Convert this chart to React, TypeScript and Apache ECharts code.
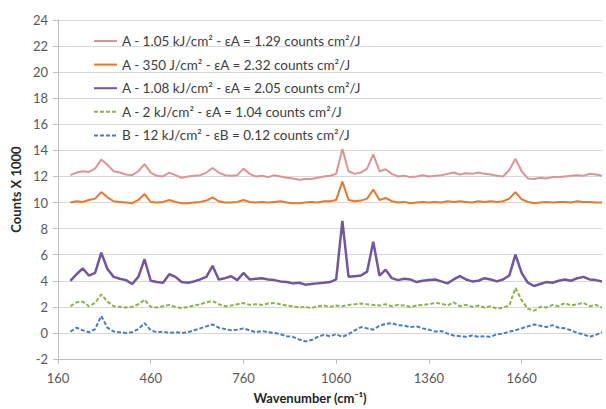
import React, { useEffect, useRef } from "react";
import * as echarts from "echarts";

const wavenumbers = [
  200, 220, 240, 260, 280, 300, 320, 340, 360, 380,
  400, 420, 440, 460, 480, 500, 520, 540, 560, 580,
  600, 620, 640, 660, 680, 700, 720, 740, 760, 780,
  800, 820, 840, 860, 880, 900, 920, 940, 960, 980,
  1000, 1020, 1040, 1060, 1080, 1100, 1120, 1140, 1160, 1180,
  1200, 1220, 1240, 1260, 1280, 1300, 1320, 1340, 1360, 1380,
  1400, 1420, 1440, 1460, 1480, 1500, 1520, 1540, 1560, 1580,
  1600, 1620, 1640, 1660, 1680, 1700, 1720, 1740, 1760, 1780,
  1800, 1820, 1840, 1860, 1880, 1900, 1920,
];

const seriesNames = [
  "A - 1.05 kJ/cm² - εA = 1.29 counts cm²/J",
  "A - 350 J/cm² - εA = 2.32 counts cm²/J",
  "A - 1.08 kJ/cm² - εA = 2.05 counts cm²/J",
  "A - 2 kJ/cm² - εA = 1.04 counts cm²/J",
  "B - 12 kJ/cm² - εB = 0.12 counts cm²/J",
];

const pinkValues = [
  12.1, 12.3, 12.4, 12.35, 12.6, 13.3, 12.9, 12.4, 12.3, 12.15,
  12.1, 12.4, 12.95, 12.3, 12.05, 12.0, 12.3, 12.1, 11.9, 12.0,
  12.05, 12.1, 12.3, 12.65, 12.3, 12.1, 12.05, 12.1, 12.6, 12.2,
  12.0, 12.05, 11.95, 12.1, 12.0, 11.9, 11.85, 11.75, 11.8, 11.8,
  11.9, 12.0, 12.05, 12.2, 14.1, 12.4, 12.2, 12.3, 12.6, 13.7,
  12.4, 12.55, 12.2, 12.0, 12.05, 11.95, 12.0, 12.1, 12.0, 12.05,
  12.1, 12.2, 12.3, 12.15, 12.25, 12.2, 12.3, 12.2, 12.15, 12.05,
  12.0, 12.5, 13.35, 12.4, 11.85, 11.8, 11.9, 11.85, 11.95, 11.95,
  12.0, 12.05, 12.1, 12.05, 12.2, 12.15, 12.05,
];

const orangeValues = [
  10.0, 10.1, 10.05, 10.2, 10.3, 10.8, 10.4, 10.1, 10.05, 10.0,
  9.95, 10.2, 10.65, 10.05, 10.0, 10.05, 10.2, 10.05, 9.95, 9.95,
  10.0, 10.05, 10.15, 10.4, 10.1, 10.0, 10.0, 10.05, 10.2, 10.05,
  10.0, 10.05, 10.0, 10.05, 10.1, 10.0, 9.95, 9.95, 10.0, 10.05,
  10.0, 10.1, 10.1, 10.2, 11.6, 10.2, 10.1, 10.15, 10.3, 11.0,
  10.2, 10.35, 10.1, 10.0, 10.05, 9.95, 10.0, 10.05, 10.0, 10.05,
  10.0, 10.1, 10.05, 10.1, 10.05, 10.0, 10.1, 10.05, 10.1, 10.05,
  10.1, 10.3, 10.8, 10.25, 10.05, 9.95, 10.0, 10.05, 10.0, 10.05,
  10.05, 10.0, 10.1, 10.05, 10.05, 10.0, 10.0,
];

const purpleValues = [
  4.0, 4.5, 4.95, 4.4, 4.6, 6.15, 4.9, 4.3, 4.15, 4.05,
  3.75, 4.3, 5.65, 4.0, 3.9, 3.85, 4.5, 4.3, 3.9, 3.85,
  3.95, 4.1, 4.3, 5.15, 4.1, 4.2, 4.35, 4.05, 4.6, 4.1,
  4.15, 4.2, 4.1, 4.05, 3.95, 3.9, 3.8, 3.85, 3.7, 3.75,
  3.8, 3.85, 3.9, 4.1, 8.6, 4.3, 4.35, 4.4, 4.7, 7.0,
  4.4, 4.85, 4.2, 4.05, 4.15, 4.1, 3.9, 4.0, 4.05, 4.1,
  3.95, 3.8, 4.1, 4.35, 4.1, 3.95, 4.0, 4.2, 4.1, 3.95,
  4.1, 4.4, 6.0, 4.6, 3.85, 3.6, 3.75, 3.9, 3.85, 4.0,
  4.1, 4.0, 4.2, 4.3, 4.1, 4.05, 3.95,
];

const greenValues = [
  2.05, 2.35, 2.4, 2.05, 2.3, 2.95, 2.4, 2.05, 2.0, 1.95,
  2.0, 2.2, 2.55, 2.0, 1.95, 2.05, 2.15, 2.0, 1.9, 2.0,
  2.1, 2.2, 2.35, 2.45, 2.2, 2.05, 2.1, 2.2, 2.3, 2.15,
  2.2, 2.15, 2.25, 2.3, 2.2, 2.1, 2.05, 1.95, 2.0, 1.9,
  2.05, 2.1, 2.0, 2.1, 2.05, 2.15, 2.2, 2.25, 2.2, 2.15,
  2.1, 2.2, 2.05, 2.15, 2.1, 2.0, 2.1, 2.15, 2.2, 2.3,
  2.25, 2.1, 2.35, 2.05, 2.15, 2.0, 2.1, 1.95, 2.05, 1.85,
  1.95, 2.1, 3.45, 2.5, 1.85, 1.7, 2.0, 1.95, 2.15, 2.05,
  2.3, 2.1, 2.2, 2.3, 2.05, 2.15, 1.95,
];

const blueValues = [
  0.1, 0.4, 0.2, 0.05, 0.3, 1.3, 0.4, 0.1, 0.05, 0.0,
  0.05, 0.3, 0.75, 0.2, 0.05, 0.1, 0.0, 0.05, 0.0, 0.05,
  0.2, 0.35, 0.5, 0.65, 0.4, 0.3, 0.2, 0.25, 0.35, 0.2,
  0.05, 0.15, 0.05, 0.0, -0.1, -0.25, -0.3, -0.5, -0.65, -0.55,
  -0.3, -0.15, -0.25, -0.1, -0.3, -0.1, 0.2, 0.45, 0.35, 0.25,
  0.55, 0.7, 0.75, 0.6, 0.55, 0.45, 0.5, 0.35, 0.25, 0.1,
  0.15, -0.05, -0.2, -0.25, -0.3, -0.2, -0.3, -0.25, -0.3, -0.1,
  -0.05, 0.1, 0.2, 0.35, 0.5, 0.65, 0.55, 0.45, 0.6, 0.4,
  0.35, 0.2, 0.0, -0.1, -0.3, -0.15, 0.05,
];

const seriesValues = [pinkValues, orangeValues, purpleValues, greenValues, blueValues];
const seriesColors = ["#D99694", "#E8792B", "#7356A0", "#8DB34E", "#4A7DBC"];
const seriesWidths = [2, 2, 2.5, 2, 2];
const seriesDashed = [false, false, false, true, true];

const FONT = "Lato, 'Open Sans', sans-serif";

export default function App() {
  const ref = useRef<HTMLDivElement>(null);

  useEffect(() => {
    if (!ref.current) return;
    const chart = echarts.init(ref.current, null, { renderer: "svg" });
    chart.setOption({
      animation: false,
      backgroundColor: "#ffffff",
      textStyle: { fontFamily: FONT },
      grid: { left: 58, right: 4, top: 20, bottom: 50, containLabel: false },
      legend: {
        orient: "vertical",
        left: 88,
        top: 29,
        itemWidth: 23,
        itemHeight: 14,
        itemGap: 9.6,
        selectedMode: false,
        data: seriesNames,
        itemStyle: { opacity: 0 },
        textStyle: {
          fontFamily: FONT,
          fontSize: 13.5,
          lineHeight: 14,
          color: "#404040",
        },
      },
      xAxis: {
        type: "value",
        min: 160,
        max: 1920,
        interval: 300,
        name: "Wavenumber (cm⁻¹)",
        nameLocation: "middle",
        nameGap: 32,
        nameTextStyle: {
          fontFamily: FONT,
          fontSize: 13,
          fontWeight: "bold",
          color: "#262626",
          padding: [0, 40, 0, 0],
        },
        axisLine: { show: true, onZero: false, lineStyle: { color: "#bfbfbf", width: 1 } },
        axisTick: { show: true, length: 5, lineStyle: { color: "#bfbfbf" } },
        splitLine: { show: false },
        axisLabel: {
          color: "#595959",
          fontSize: 13,
          margin: 12,
          showMaxLabel: false,
          fontFamily: FONT,
          formatter: (v: number) => String(v),
        },
      },
      yAxis: {
        type: "value",
        min: -2,
        max: 24,
        interval: 2,
        name: "Counts X 1000",
        nameLocation: "middle",
        nameGap: 36,
        nameTextStyle: { fontFamily: FONT, fontSize: 13, fontWeight: "bold", color: "#262626" },
        axisLine: { show: true, lineStyle: { color: "#bfbfbf", width: 1 } },
        axisTick: { show: true, length: 5, lineStyle: { color: "#bfbfbf" } },
        splitLine: { show: true, lineStyle: { color: "#d9d9d9", width: 1 } },
        axisLabel: {
          color: "#595959",
          fontSize: 13,
          margin: 10,
          fontFamily: FONT,
          formatter: (v: number) => String(v),
        },
      },
      series: seriesNames.map((name, k) => ({
        name,
        type: "line",
        showSymbol: false,
        symbol: "none",
        color: seriesColors[k],
        lineStyle: {
          color: seriesColors[k],
          width: seriesWidths[k],
          type: seriesDashed[k] ? [4, 2] : "solid",
        },
        data: wavenumbers.map((w, i) => [w, seriesValues[k][i]]),
      })),
    });
    return () => chart.dispose();
  }, []);

  return (
    <div
      ref={ref}
      style={{ position: "absolute", left: 0, top: 0, width: 606, height: 409 }}
    />
  );
}
